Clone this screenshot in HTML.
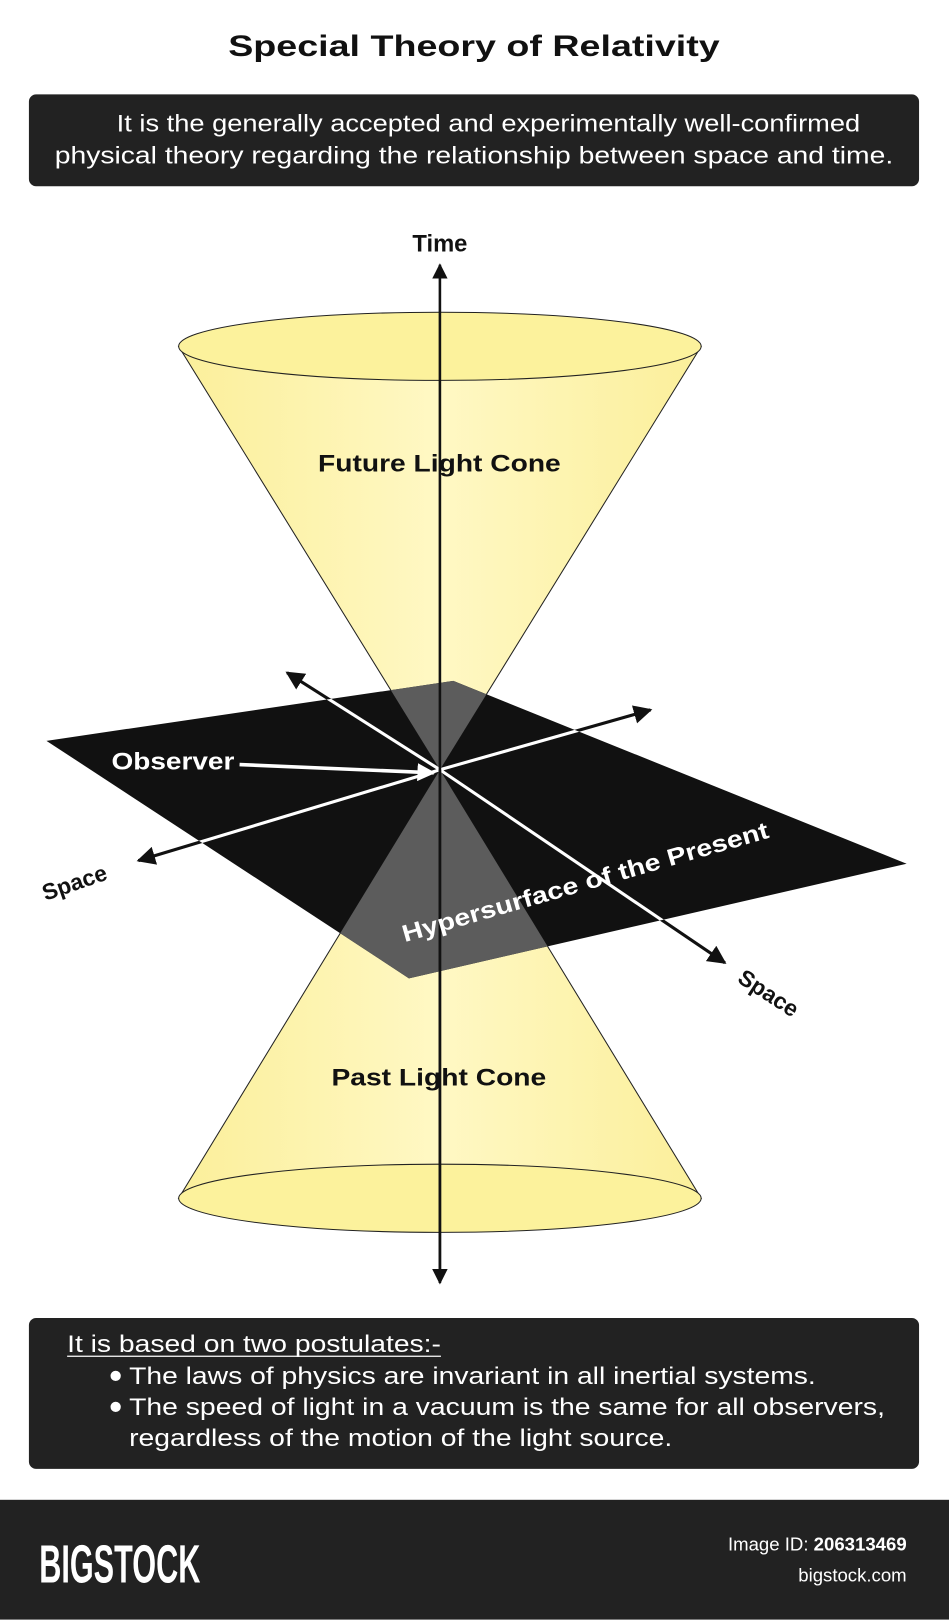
<!DOCTYPE html>
<html><head><meta charset="utf-8"><style>
html,body{margin:0;padding:0;background:#fff;}
svg{display:block;}
text{font-family:"Liberation Sans",Arial,sans-serif;}
</style></head><body>
<svg width="949" height="1620" viewBox="0 0 919 1568" xmlns="http://www.w3.org/2000/svg">
<defs>
<linearGradient id="cg" x1="0" x2="1" y1="0" y2="0">
<stop offset="0" stop-color="#fbef9a"/><stop offset="0.5" stop-color="#fff8c4"/><stop offset="1" stop-color="#fbef9a"/>
</linearGradient>
<clipPath id="plane"><polygon points="45,717 439,659 878,836 396,947"/></clipPath>
<marker id="ah" viewBox="0 0 10 10" refX="9" refY="5" markerWidth="6" markerHeight="6" orient="auto"><path d="M0,0 L10,5 L0,10 z" fill="#111"/></marker>
<marker id="aw" viewBox="0 0 10 10" refX="9" refY="5" markerWidth="5" markerHeight="5" orient="auto"><path d="M0,0 L10,5 L0,10 z" fill="#fff"/></marker>
</defs>
<rect width="919" height="1568" fill="#fff"/>
<text x="221" y="54" font-size="29" font-weight="bold" fill="#111" textLength="476" lengthAdjust="spacingAndGlyphs">Special Theory of Relativity</text>
<rect x="28" y="91" width="862" height="89" rx="7" fill="#222"/>
<text x="113" y="127" font-size="23" fill="#fff" textLength="720" lengthAdjust="spacingAndGlyphs">It is the generally accepted and experimentally well-confirmed</text>
<text x="53" y="158" font-size="23" fill="#fff" textLength="812" lengthAdjust="spacingAndGlyphs">physical theory regarding the relationship between space and time.</text>

<polygon points="173,335 679,335 426,745" fill="url(#cg)" stroke="#222" stroke-width="1"/>
<ellipse cx="426" cy="335" rx="253" ry="33" fill="#fcf29c" stroke="#222" stroke-width="1"/>
<polygon points="173,1160 679,1160 426,745" fill="url(#cg)" stroke="#222" stroke-width="1"/>
<ellipse cx="426" cy="1160" rx="253" ry="33" fill="#fcf29c" stroke="#222" stroke-width="1"/>

<polygon points="45,717 439,659 878,836 396,947" fill="#111"/>
<g clip-path="url(#plane)">
<polygon points="173,335 679,335 426,745" fill="#5c5c5c"/>
<polygon points="173,1160 679,1160 426,745" fill="#5c5c5c"/>
</g>

<line x1="426" y1="745" x2="278" y2="651" stroke="#111" stroke-width="3" marker-end="url(#ah)"/>
<line x1="426" y1="745" x2="702" y2="932" stroke="#111" stroke-width="3" marker-end="url(#ah)"/>
<line x1="426" y1="745" x2="134" y2="833" stroke="#111" stroke-width="3" marker-end="url(#ah)"/>
<line x1="426" y1="745" x2="630" y2="687" stroke="#111" stroke-width="3" marker-end="url(#ah)"/>
<g clip-path="url(#plane)" stroke="#fff" stroke-width="3">
<line x1="426" y1="745" x2="278" y2="651"/>
<line x1="426" y1="745" x2="702" y2="932"/>
<line x1="426" y1="745" x2="134" y2="833"/>
<line x1="426" y1="745" x2="630" y2="687"/>
</g>

<line x1="426" y1="1240" x2="426" y2="256" stroke="#111" stroke-width="2.5" marker-end="url(#ah)"/>
<line x1="426" y1="745" x2="426" y2="1242" stroke="#111" stroke-width="2.5" marker-end="url(#ah)"/>
<text x="426" y="243" font-size="23" font-weight="bold" text-anchor="middle" fill="#111">Time</text>

<text x="308" y="456" font-size="23" font-weight="bold" fill="#111" textLength="235" lengthAdjust="spacingAndGlyphs">Future Light Cone</text>
<text x="321" y="1051" font-size="23" font-weight="bold" fill="#111" textLength="208" lengthAdjust="spacingAndGlyphs">Past Light Cone</text>

<text x="108" y="745" font-size="23" font-weight="bold" fill="#fff" textLength="119" lengthAdjust="spacingAndGlyphs">Observer</text>
<line x1="232" y1="740" x2="420" y2="748" stroke="#fff" stroke-width="3.5" marker-end="url(#aw)"/>

<text x="0" y="0" font-size="22" font-weight="bold" fill="#111" transform="translate(44,872) rotate(-19)">Space</text>
<text x="0" y="0" font-size="22" font-weight="bold" fill="#111" transform="translate(713,950) rotate(33)">Space</text>
<text x="0" y="0" font-size="23" font-weight="bold" fill="#fff" transform="translate(392,912) rotate(-16)" textLength="368" lengthAdjust="spacingAndGlyphs">Hypersurface of the Present</text>

<rect x="28" y="1276" width="862" height="146" rx="7" fill="#222"/>
<text x="65" y="1309" font-size="23" fill="#fff" textLength="362" lengthAdjust="spacingAndGlyphs">It is based on two postulates:-</text>
<line x1="65" y1="1313" x2="427" y2="1313" stroke="#fff" stroke-width="1.2"/>
<circle cx="112" cy="1332" r="5" fill="#fff"/>
<text x="125" y="1340" font-size="23" fill="#fff" textLength="665" lengthAdjust="spacingAndGlyphs">The laws of physics are invariant in all inertial systems.</text>
<circle cx="112" cy="1362" r="5" fill="#fff"/>
<text x="125" y="1370" font-size="23" fill="#fff" textLength="732" lengthAdjust="spacingAndGlyphs">The speed of light in a vacuum is the same for all observers,</text>
<text x="125" y="1400" font-size="23" fill="#fff" textLength="526" lengthAdjust="spacingAndGlyphs">regardless of the motion of the light source.</text>

<rect x="0" y="1452" width="919" height="116" fill="#222"/>
<text x="38" y="1532" font-size="52" font-weight="bold" fill="#fff" textLength="156" lengthAdjust="spacingAndGlyphs">BIGSTOCK</text>
<text x="878" y="1501" font-size="18" text-anchor="end" fill="#fff">Image ID: <tspan font-weight="bold">206313469</tspan></text>
<text x="878" y="1531" font-size="18" text-anchor="end" fill="#fff">bigstock.com</text>
</svg>
</body></html>
